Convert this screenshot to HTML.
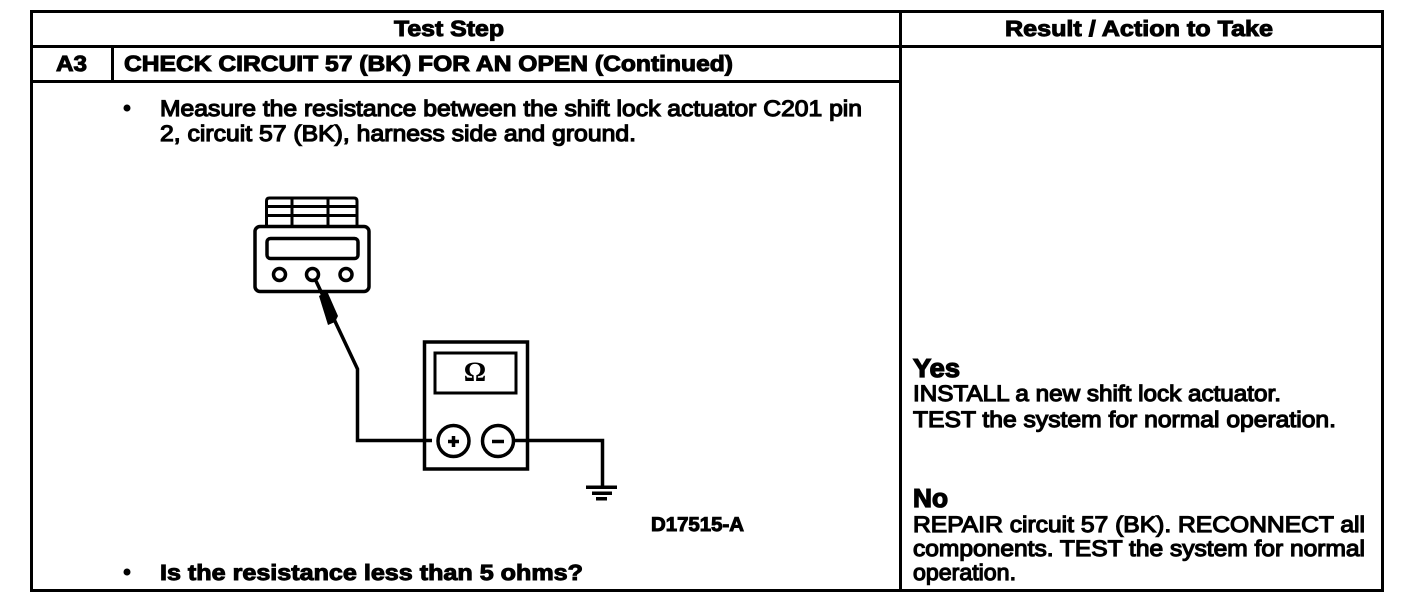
<!DOCTYPE html>
<html lang="en">
<head>
<meta charset="utf-8">
<title>Test Step A3</title>
<style>
html,body{margin:0;padding:0;background:#fff;width:1408px;height:604px;overflow:hidden}
svg{display:block}
text{font-family:"Liberation Sans",Arial,sans-serif;fill:#000;stroke:#000;text-rendering:geometricPrecision}
.b{font-weight:bold;font-size:22px;stroke-width:1}
.r{font-size:22.5px;stroke-width:1.2}
.h{font-weight:bold;font-size:26px;stroke-width:1.3}
</style>
</head>
<body>
<svg width="1408" height="604" viewBox="0 0 1408 604" xmlns="http://www.w3.org/2000/svg">
<rect width="1408" height="604" fill="#fff"/>
<!-- Table -->
<g fill="#000" shape-rendering="crispEdges">
<rect x="30" y="10" width="1354" height="3"/>
<rect x="30" y="589" width="1354" height="3"/>
<rect x="30" y="10" width="3" height="582"/>
<rect x="1381" y="10" width="3" height="582"/>
<rect x="899" y="10" width="3" height="582"/>
<rect x="30" y="45" width="1354" height="3"/>
<rect x="30" y="80" width="870" height="3"/>
<rect x="111" y="46" width="3" height="36"/>
</g>
<!-- Text -->
<text class="b" x="394" y="36" textLength="110" lengthAdjust="spacingAndGlyphs">Test Step</text>
<text class="b" x="1005" y="36" textLength="268" lengthAdjust="spacingAndGlyphs">Result / Action to Take</text>
<text class="b" x="56" y="71" textLength="31" lengthAdjust="spacingAndGlyphs">A3</text>
<text class="b" x="124" y="71" textLength="609" lengthAdjust="spacingAndGlyphs">CHECK CIRCUIT 57 (BK) FOR AN OPEN (Continued)</text>
<circle cx="127" cy="108" r="3.5" fill="#000"/>
<text class="r" x="160" y="116" textLength="702" lengthAdjust="spacingAndGlyphs">Measure the resistance between the shift lock actuator C201 pin</text>
<text class="r" x="160" y="141" textLength="476" lengthAdjust="spacingAndGlyphs">2, circuit 57 (BK), harness side and ground.</text>
<text class="b" x="651" y="531" style="font-size:20px" textLength="93" lengthAdjust="spacingAndGlyphs">D17515-A</text>
<circle cx="127" cy="572" r="3.5" fill="#000"/>
<text class="b" x="160" y="580" textLength="423" lengthAdjust="spacingAndGlyphs">Is the resistance less than 5 ohms?</text>

<text class="h" x="913" y="377" textLength="47" lengthAdjust="spacingAndGlyphs">Yes</text>
<text class="r" x="913" y="401" textLength="368" lengthAdjust="spacingAndGlyphs">INSTALL a new shift lock actuator.</text>
<text class="r" x="913" y="427" textLength="423" lengthAdjust="spacingAndGlyphs">TEST the system for normal operation.</text>
<text class="h" x="913" y="507" textLength="35" lengthAdjust="spacingAndGlyphs">No</text>
<text class="r" x="913" y="532" textLength="452" lengthAdjust="spacingAndGlyphs">REPAIR circuit 57 (BK). RECONNECT all</text>
<text class="r" x="913" y="556" textLength="452" lengthAdjust="spacingAndGlyphs">components. TEST the system for normal</text>
<text class="r" x="913" y="580" textLength="103" lengthAdjust="spacingAndGlyphs">operation.</text>

<!-- Scan tool -->
<g fill="none" stroke="#000" stroke-width="3.5">
<path d="M266.5 226V201q0-3 3-3H354q3 0 3 3V226" stroke-width="3"/>
<path d="M266 206.500H358M266 215.500H358M292 198V226M328 198V226" stroke-width="3"/>
<rect x="255" y="226.500" width="114" height="65" rx="5"/>
<rect x="267" y="238.500" width="91" height="20" rx="3.500"/>
<circle cx="279.500" cy="274.500" r="6"/>
<circle cx="312.500" cy="274.500" r="6"/>
<circle cx="346" cy="274.500" r="6"/>
</g>
<!-- Probe and wires -->
<path d="M316 281L357.500 369V440.500H432" fill="none" stroke="#000" stroke-width="3.500"/>
<path d="M319 296L327 291L338 316L335 322L328 325Z" fill="#000"/>
<!-- Multimeter -->
<g fill="none" stroke="#000" stroke-width="3.500">
<rect x="424.500" y="342" width="103" height="127"/>
<rect x="435" y="353" width="81" height="40" stroke-width="3"/>
<circle cx="453.500" cy="441" r="15.500"/>
<circle cx="498" cy="441" r="15.500"/>
<path d="M513 440.500H602.500V488"/>
</g>
<path d="M448 441.500H459M453.500 436V447M492 441.500H504" fill="none" stroke="#000" stroke-width="3.500"/>
<text x="475" y="381" text-anchor="middle" style="font-family:'Liberation Serif',serif;font-weight:bold;font-size:28px;stroke:none">Ω</text>
<!-- Ground -->
<g fill="#000">
<rect x="586" y="485.500" width="31" height="3.500"/>
<rect x="592" y="491.500" width="20" height="3.500"/>
<rect x="596" y="497" width="11" height="3.500"/>
</g>
</svg>
</body>
</html>
